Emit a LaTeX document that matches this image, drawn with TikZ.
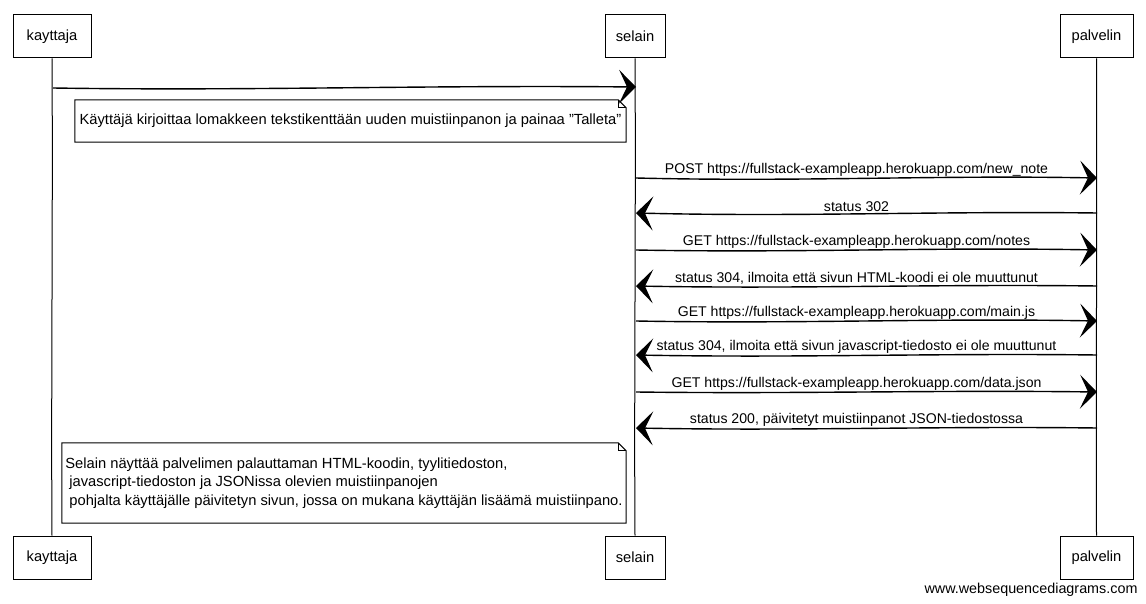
\documentclass[tikz,border=0pt]{standalone}
\usepackage{fontspec}
\setmainfont{Liberation Sans}
\usetikzlibrary{arrows.meta}
\begin{document}
\begin{tikzpicture}[x=1pt,y=-1pt,
  every node/.style={font=\fontsize{14.7}{18.5}\selectfont},
  actor/.style={draw, line width=1pt, minimum height=43pt, inner xsep=0pt, fill=white},
  life/.style={line width=1pt},
  msg/.style={line width=1.4pt, -{Stealth[length=17pt,width=34pt,inset=8pt]}},
  lbl/.style={above, inner sep=1pt, xshift=-10pt, font=\fontsize{14.1}{17}\selectfont},
  notebox/.style={inner xsep=0pt, inner ysep=0pt, align=left},
  noteline/.style={line width=1pt}]
\useasboundingbox (0,0) rectangle (1146,604);

% actors
\node[actor, minimum width=78pt] (kt) at (52,36.5) {kayttaja};
\node[actor, minimum width=60pt] (st) at (635,36.5) {selain};
\node[actor, minimum width=73pt] (pt) at (1096.5,36.5) {palvelin};
\node[actor, minimum width=78pt] (kb) at (52,557.5) {kayttaja};
\node[actor, minimum width=60pt] (sb) at (635,557.5) {selain};
\node[actor, minimum width=73pt] (pb) at (1096.5,557.5) {palvelin};

% lifelines
\draw[life] (kt.south) .. controls (53,200) and (51,400) .. (kb.north);
\draw[life] (st.south) .. controls (636,200) and (634,400) .. (sb.north);
\draw[life] (pt.south) .. controls (1097,200) and (1096,400) .. (pb.north);

% message end points
\coordinate (k0) at (53,88);   \coordinate (s0) at (636,87);
\coordinate (s1) at (636,178); \coordinate (p1) at (1097,178);
\coordinate (p2) at (1097,213); \coordinate (s2) at (636,213);
\coordinate (s3) at (636,250); \coordinate (p3) at (1097,250);
\coordinate (p4) at (1097,286); \coordinate (s4) at (636,286);
\coordinate (s5) at (636,321); \coordinate (p5) at (1097,321);
\coordinate (p6) at (1097,355); \coordinate (s6) at (636,355);
\coordinate (s7) at (636,392); \coordinate (p7) at (1097,392);
\coordinate (p8) at (1097,428); \coordinate (s8) at (636,428);

% messages
\draw[msg] (k0) .. controls (250,91) and (420,85) .. (s0);
\draw[msg] (s1) .. controls (800,182) and (933,175) .. node[lbl] (l1) {POST https://fullstack-exampleapp.herokuapp.com/new\_note} (p1);
\draw[msg] (p2) .. controls (933,211) and (800,217) .. node[lbl] (l2) {status 302} (s2);
\draw[msg] (s3) .. controls (800,253) and (933,247) .. node[lbl] (l3) {GET https://fullstack-exampleapp.herokuapp.com/notes} (p3);
\draw[msg] (p4) .. controls (933,284) and (800,289) .. node[lbl] (l4) {status 304, ilmoita että sivun HTML-koodi ei ole muuttunut} (s4);
\draw[msg] (s5) .. controls (800,324) and (933,318) .. node[lbl] (l5) {GET https://fullstack-exampleapp.herokuapp.com/main.js} (p5);
\draw[msg] (p6) .. controls (933,353) and (800,358) .. node[lbl] (l6) {status 304, ilmoita että sivun javascript-tiedosto ei ole muuttunut} (s6);
\draw[msg] (s7) .. controls (800,394) and (933,390) .. node[lbl] (l7) {GET https://fullstack-exampleapp.herokuapp.com/data.json} (p7);
\draw[msg] (p8) .. controls (933,426) and (800,431) .. node[lbl] (l8) {status 200, päivitetyt muistiinpanot JSON-tiedostossa} (s8);

% notes
\node[notebox, minimum width=551pt, minimum height=42pt] (n1) at (350.5,121)
  {Käyttäjä kirjoittaa lomakkeen tekstikenttään uuden muistiinpanon ja painaa "Talleta"};
\draw[noteline] (n1.north west) -- ([xshift=-8pt]n1.north east) -- ([yshift=-8pt]n1.north east)
  -- (n1.south east) -- (n1.south west) -- cycle;
\draw[noteline] ([xshift=-8pt]n1.north east) -- ([xshift=-8pt,yshift=-8pt]n1.north east) -- ([yshift=-8pt]n1.north east);

\node[notebox, minimum width=564pt, minimum height=80pt] (n2) at (344,483)
  {Selain näyttää palvelimen palauttaman HTML-koodin, tyylitiedoston,\\
   \hspace*{4pt}javascript-tiedoston ja JSONissa olevien muistiinpanojen\\
   \hspace*{4pt}pohjalta käyttäjälle päivitetyn sivun, jossa on mukana käyttäjän lisäämä muistiinpano.};
\draw[noteline] (n2.north west) -- ([xshift=-8pt]n2.north east) -- ([yshift=-8pt]n2.north east)
  -- (n2.south east) -- (n2.south west) -- cycle;
\draw[noteline] ([xshift=-8pt]n2.north east) -- ([xshift=-8pt,yshift=-8pt]n2.north east) -- ([yshift=-8pt]n2.north east);

% watermark
\node[font=\fontsize{14.35}{17}\selectfont] (wm) at (1031,590) {www.websequencediagrams.com};
\end{tikzpicture}
\end{document}
